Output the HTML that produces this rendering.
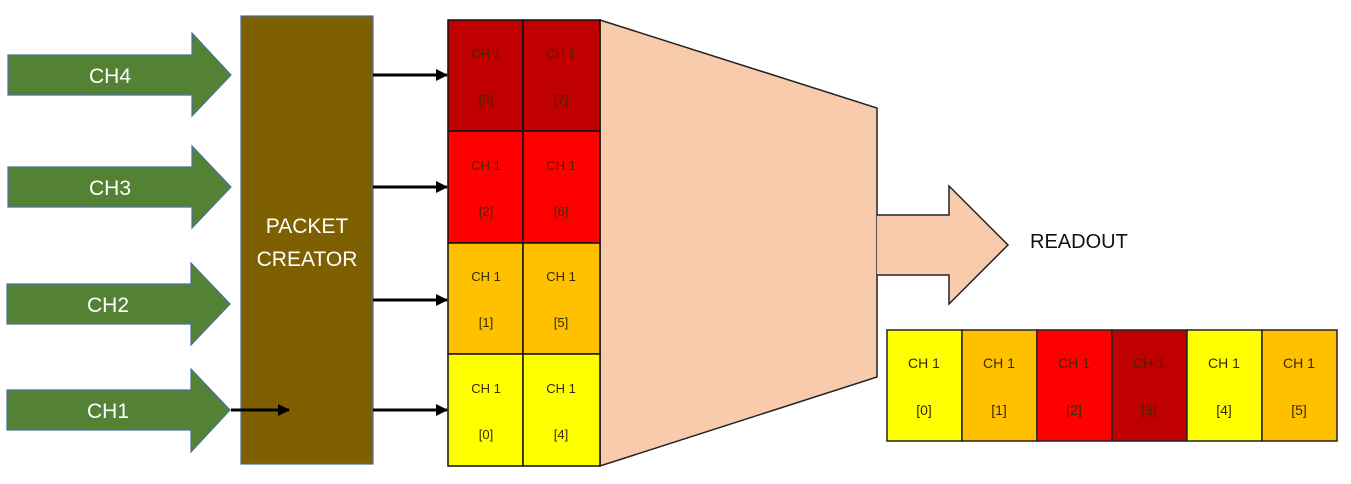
<!DOCTYPE html>
<html><head><meta charset="utf-8"><style>
html,body{margin:0;padding:0;background:#fff;}
svg{display:block;}
text{font-family:"Liberation Sans",sans-serif;}
</style></head><body>
<svg width="1351" height="484" viewBox="0 0 1351 484" xmlns="http://www.w3.org/2000/svg">
<defs>
<marker id="ah" markerWidth="12" markerHeight="12" refX="11" refY="6" orient="auto" markerUnits="userSpaceOnUse">
<path d="M0,0 L12,6 L0,12 Z" fill="#000"/>
</marker>
</defs>
<g fill="#548235" stroke="#4a6fa0" stroke-width="1.2">
<path d="M8,55 H192 V33 L231,75 L192,116 V95 H8 Z"/>
<path d="M8,167 H192 V146 L231,187 L192,228 V207 H8 Z"/>
<path d="M7,284 H191 V263 L230,304 L191,345 V324 H7 Z"/>
<path d="M7,390 H191 V369 L230,410 L191,452 V430 H7 Z"/>
</g>
<g fill="#fff" font-size="21" text-anchor="middle">
<text x="110" y="83">CH4</text>
<text x="110" y="195">CH3</text>
<text x="108" y="312">CH2</text>
<text x="108" y="418">CH1</text>
</g>
<rect x="241" y="16" width="132" height="448" fill="#7f6000" stroke="#4a6fa0" stroke-width="1.2"/>
<g fill="#fff" font-size="21" text-anchor="middle">
<text x="307" y="233">PACKET</text>
<text x="307" y="266">CREATOR</text>
</g>
<g stroke="#000" stroke-width="3" marker-end="url(#ah)">
<line x1="231" y1="410" x2="289" y2="410"/>
<line x1="373" y1="75" x2="447" y2="75"/>
<line x1="373" y1="187" x2="447" y2="187"/>
<line x1="373" y1="300" x2="447" y2="300"/>
<line x1="373" y1="410" x2="447" y2="410"/>
</g>
<path d="M600,20 L877,108 L877,377 L600,466 Z" fill="#f8cbad" stroke="#222" stroke-width="1.5"/>
<path d="M877,215 H949 V186 L1008,245 L949,304 V275 H877" fill="#f8cbad" stroke="#222" stroke-width="1.5"/>
<text x="1030" y="248" font-size="20" fill="#111">READOUT</text>
<g stroke="#111" stroke-width="1.5">
<rect x="448" y="20" width="75" height="111" fill="#c00000"/>
<rect x="523" y="20" width="77" height="111" fill="#c00000"/>
<rect x="448" y="131" width="75" height="112" fill="#ff0000"/>
<rect x="523" y="131" width="77" height="112" fill="#ff0000"/>
<rect x="448" y="243" width="75" height="111" fill="#ffc000"/>
<rect x="523" y="243" width="77" height="111" fill="#ffc000"/>
<rect x="448" y="354" width="75" height="112" fill="#ffff00"/>
<rect x="523" y="354" width="77" height="112" fill="#ffff00"/>
</g>
<g font-size="13" fill="#3a2a00" text-anchor="middle">
<text x="486" y="58">CH 1</text><text x="561" y="58">CH 1</text>
<text x="486" y="104">[3]</text><text x="561" y="104">[7]</text>
<text x="486" y="170">CH 1</text><text x="561" y="170">CH 1</text>
<text x="486" y="216">[2]</text><text x="561" y="216">[6]</text>
<text x="486" y="281">CH 1</text><text x="561" y="281">CH 1</text>
<text x="486" y="327">[1]</text><text x="561" y="327">[5]</text>
<text x="486" y="393">CH 1</text><text x="561" y="393">CH 1</text>
<text x="486" y="439">[0]</text><text x="561" y="439">[4]</text>
</g>
<g stroke="#222" stroke-width="1.5">
<rect x="887" y="330" width="75" height="111" fill="#ffff00"/>
<rect x="962" y="330" width="75" height="111" fill="#ffc000"/>
<rect x="1037" y="330" width="75" height="111" fill="#ff0000"/>
<rect x="1112" y="330" width="75" height="111" fill="#c00000"/>
<rect x="1187" y="330" width="75" height="111" fill="#ffff00"/>
<rect x="1262" y="330" width="75" height="111" fill="#ffc000"/>
</g>
<g font-size="14" fill="#3a2a00" text-anchor="middle">
<text x="924" y="368">CH 1</text><text x="999" y="368">CH 1</text><text x="1074" y="368">CH 1</text>
<text x="1149" y="368">CH 1</text><text x="1224" y="368">CH 1</text><text x="1299" y="368">CH 1</text>
<text x="924" y="415">[0]</text><text x="999" y="415">[1]</text><text x="1074" y="415">[2]</text>
<text x="1149" y="415">[3]</text><text x="1224" y="415">[4]</text><text x="1299" y="415">[5]</text>
</g>
</svg>
</body></html>
